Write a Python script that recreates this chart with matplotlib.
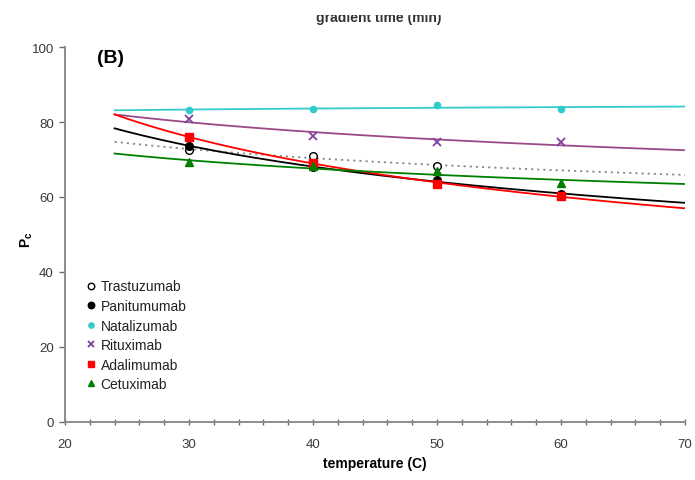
import numpy as np
import matplotlib
matplotlib.use("Agg")
import matplotlib.pyplot as plt
from matplotlib.patches import Rectangle
from matplotlib.ticker import MultipleLocator

plt.rcParams['font.family'] = ['Liberation Sans', 'DejaVu Sans']

# Partition coefficient vs column temperature for six antibodies
temps = [30, 40, 50, 60]
trastuzumab = [72.5, 71.0, 68.2]          # measured at 30, 40, 50 C
panitumumab = [73.7, 67.9, 64.4, 60.8]
natalizumab = [83.2, 83.5, 84.5, 83.5]
rituximab = [80.8, 76.2, 74.7, 74.7]
adalimumab = [76.1, 69.0, 63.5, 60.3]
cetuximab = [69.2, 68.2, 66.8, 63.7]

names = ["Trastuzumab", "Panitumumab", "Natalizumab", "Rituximab", "Adalimumab", "Cetuximab"]
series = [trastuzumab, panitumumab, natalizumab, rituximab, adalimumab, cetuximab]

styles = [
    dict(marker='o', mfc='white', mec='black', ms=5.5, mew=1.0, line='#8a8a8a', ls=(0, (1.2, 2.2))),
    dict(marker='o', mfc='black', mec='black', ms=5.5, mew=1.0, line='black', ls='-'),
    dict(marker='o', mfc='#33CCCC', mec='#33CCCC', ms=4.5, mew=1.0, line='#33CCCC', ls='-'),
    dict(marker='x', mfc='#8040A0', mec='#8040A0', ms=5.5, mew=1.3, line='#9A4A88', ls='-'),
    dict(marker='s', mfc='#FF0000', mec='#FF0000', ms=5.5, mew=1.0, line='#FF0000', ls='-'),
    dict(marker='^', mfc='#008000', mec='#008000', ms=5.5, mew=1.0, line='#008000', ls='-'),
]

fit_x = np.linspace(24, 70, 200)

fig = plt.figure(figsize=(6.95, 4.81), dpi=100)
ax = fig.add_axes([0.0935, 0.1206, 0.8921, 0.7796])

for name, vals, st in zip(names, series, styles):
    xs = np.array(temps[:len(vals)], dtype=float)
    ys = np.array(vals, dtype=float)
    # power-law trend line, y = a * x^b
    b, ln_a = np.polyfit(np.log(xs), np.log(ys), 1)
    ax.plot(fit_x, np.exp(ln_a) * fit_x ** b, color=st['line'], ls=st['ls'], lw=1.3, zorder=2)
    ax.plot(xs, ys, ls='none', marker=st['marker'], mfc=st['mfc'], mec=st['mec'],
            ms=st['ms'], mew=st['mew'], label=name, zorder=3)

ax.set_xlim(20, 70)
ax.set_ylim(0, 100)
ax.xaxis.set_major_locator(MultipleLocator(10))
ax.xaxis.set_minor_locator(MultipleLocator(2))
ax.yaxis.set_major_locator(MultipleLocator(20))

for side in ('top', 'right'):
    ax.spines[side].set_visible(False)
for side in ('left', 'bottom'):
    ax.spines[side].set_color('#8c8c8c')
    ax.spines[side].set_linewidth(1.4)

ax.tick_params(axis='x', which='both', direction='inout', color='#6c6c6c', width=1.0,
               labelsize=9.5, labelcolor='#3a3a3a', pad=9)
ax.tick_params(axis='x', which='major', length=5)
ax.tick_params(axis='x', which='minor', length=4)
ax.tick_params(axis='y', which='major', direction='out', length=4, color='#6c6c6c', width=1.0,
               labelsize=9.5, labelcolor='#3a3a3a', pad=4)

ax.set_xlabel('temperature (C)', fontsize=10, fontweight='bold', labelpad=4)
ax.set_ylabel(r'P$_{\mathregular{c}}$', fontsize=10, fontweight='bold')
ax.yaxis.set_label_coords(-0.048, 0.49)

ax.text(0.052, 0.995, '(B)', transform=ax.transAxes, fontsize=14, fontweight='bold',
        ha='left', va='top')

ax.legend(loc='upper left', bbox_to_anchor=(0.027, 0.395), frameon=False, fontsize=10,
          handlelength=0.6, handletextpad=0.35, labelspacing=0.4, borderaxespad=0.0,
          markerscale=0.85, labelcolor='#222222')

# heading of the panel above, partly covered at the top edge
fig.text(0.545, 1 - 22 / 481, 'gradient time (min)', fontsize=10, fontweight='bold',
         ha='center', va='baseline', color='#333333')
fig.patches.append(Rectangle((0, 1 - 16 / 481), 1, 16 / 481, transform=fig.transFigure,
                             facecolor='white', edgecolor='none', zorder=10))

fig.savefig('out.png', dpi=100)
